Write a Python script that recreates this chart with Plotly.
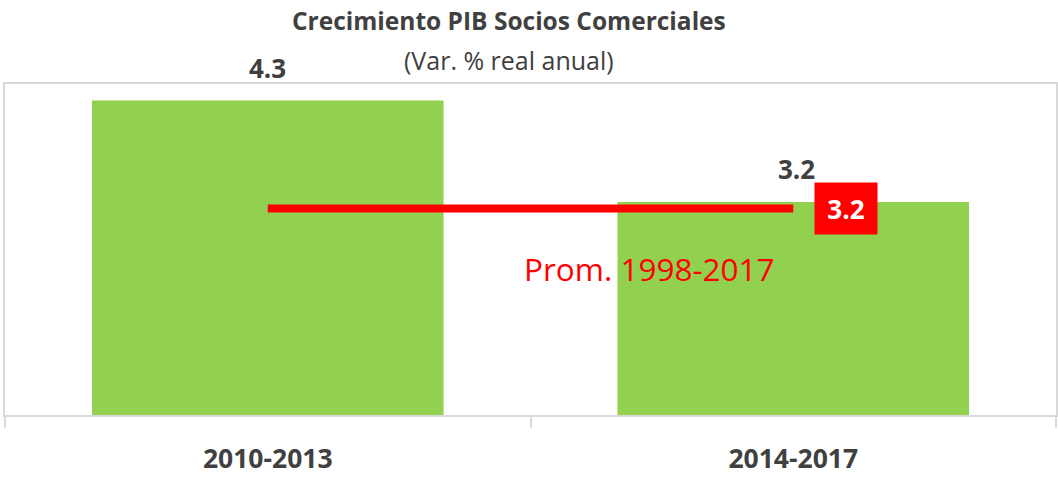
import plotly.graph_objects as go

categories = ["2010-2013", "2014-2017"]
growth = [4.3, 3.2]
growth_labels = ["4.3", "3.2"]
prom_line = [3.13, 3.13]
prom_label = "3.2"
prom_text = "Prom. 1998-2017"
title_text = "Crecimiento PIB Socios Comerciales"
subtitle_text = "(Var. % real anual)"

GREEN = "#92D050"
RED = "#FF0000"
DARK = "#404040"
BORDER = "#D9D9D9"
FONT = "Open Sans"

fig = go.Figure()
fig.add_trace(go.Bar(x=categories, y=growth, marker=dict(color=GREEN, line=dict(width=0)),
                     showlegend=False, hoverinfo="skip"))
fig.add_trace(go.Scatter(x=categories, y=prom_line, mode="lines",
                         line=dict(color=RED, width=8), showlegend=False, hoverinfo="skip"))

annotations = []
for cat, val, lab in zip(categories, growth, growth_labels):
    annotations.append(dict(x=cat, y=val, xref="x", yref="y", text=lab, showarrow=False,
                            yanchor="bottom", yshift=13,
                            xshift=0 if cat == categories[0] else 3,
                            font=dict(family=FONT, size=26, color=DARK, weight="bold")))
annotations.append(dict(x=categories[1], y=prom_line[1], xref="x", yref="y", text=prom_label,
                        showarrow=False, xshift=53, width=60, height=49, bgcolor=RED,
                        align="center", valign="middle",
                        font=dict(family=FONT, size=26, color="white", weight="bold")))
annotations.append(dict(x=0.726, y=2.48, xref="x", yref="y", text=prom_text, showarrow=False,
                        font=dict(family=FONT, size=31.5, color=RED)))
annotations.append(dict(x=0.4795, y=1 + (84 - 20) / 331, xref="paper", yref="paper",
                        text=title_text, showarrow=False, yanchor="middle",
                        font=dict(family=FONT, size=24.5, color=DARK, weight="bold")))
annotations.append(dict(x=0.4795, y=1 + (84 - 60) / 331, xref="paper", yref="paper",
                        text=subtitle_text, showarrow=False, yanchor="middle",
                        font=dict(family=FONT, size=25, color=DARK)))

fig.update_layout(
    width=1058, height=477,
    margin=dict(l=5, r=2, t=84, b=62, autoexpand=False),
    paper_bgcolor="white", plot_bgcolor="white",
    bargap=0.331,
    annotations=annotations,
    xaxis=dict(type="category", showline=True, mirror=True, linecolor=BORDER, linewidth=2,
               ticks="outside", tickson="boundaries", ticklen=11, tickcolor=BORDER, tickwidth=2,
               showgrid=False, ticklabelstandoff=19, automargin=False,
               tickfont=dict(family=FONT, size=26.5, color=DARK, weight="bold")),
    yaxis=dict(range=[0.89, 4.48], showline=True, mirror=True, linecolor=BORDER, linewidth=2,
               showticklabels=False, showgrid=False, zeroline=False, ticks="", automargin=False),
)

fig.write_html("out.html", config={"displayModeBar": False},
               post_script="document.body.style.margin='0px';")
